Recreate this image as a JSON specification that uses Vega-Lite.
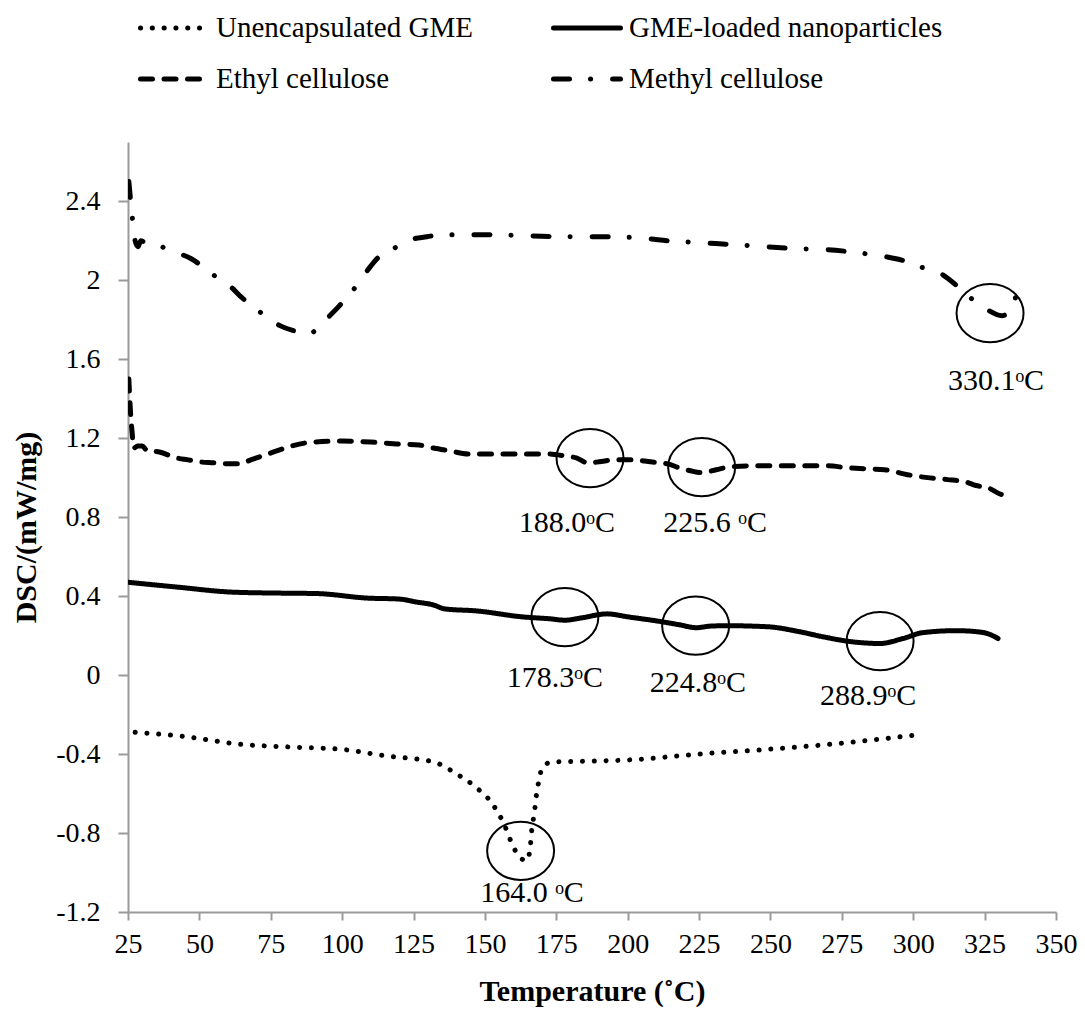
{
  "$schema": "https://vega.github.io/schema/vega-lite/v6.json",
  "width": 928,
  "height": 770,
  "autosize": {"type": "none"},
  "padding": {"left": 128, "top": 142, "right": 29, "bottom": 107},
  "background": "white",
  "config": {
    "view": {"stroke": null},
    "font": "Liberation Serif",
    "style": {"guide-label": {"font": "Liberation Serif"}, "guide-title": {"font": "Liberation Serif"}},
    "axis": {"grid": false, "domainColor": "#9a9a9a", "domainWidth": 2, "tickColor": "#9a9a9a", "tickWidth": 2, "labelFont": "Liberation Serif", "labelFontSize": 28, "labelColor": "black", "labelFlush": false, "titleFont": "Liberation Serif", "titleFontSize": 30, "titleFontWeight": "bold", "titleColor": "black"},
    "legend": {"labelFont": "Liberation Serif"}
  },
  "layer": [
    {
      "data": {"values": [
        {"series": "Methyl cellulose", "t": 25.3, "dsc": 2.50},
        {"series": "Methyl cellulose", "t": 25.8, "dsc": 2.42},
        {"series": "Methyl cellulose", "t": 26.5, "dsc": 2.32},
        {"series": "Methyl cellulose", "t": 27.5, "dsc": 2.20},
        {"series": "Methyl cellulose", "t": 28.5, "dsc": 2.17},
        {"series": "Methyl cellulose", "t": 29.5, "dsc": 2.20},
        {"series": "Methyl cellulose", "t": 31, "dsc": 2.19},
        {"series": "Methyl cellulose", "t": 36.6, "dsc": 2.17},
        {"series": "Methyl cellulose", "t": 42, "dsc": 2.14},
        {"series": "Methyl cellulose", "t": 47, "dsc": 2.11},
        {"series": "Methyl cellulose", "t": 52, "dsc": 2.06},
        {"series": "Methyl cellulose", "t": 56.5, "dsc": 2.01},
        {"series": "Methyl cellulose", "t": 60.7, "dsc": 1.97},
        {"series": "Methyl cellulose", "t": 65, "dsc": 1.91},
        {"series": "Methyl cellulose", "t": 69.5, "dsc": 1.86},
        {"series": "Methyl cellulose", "t": 73.7, "dsc": 1.81},
        {"series": "Methyl cellulose", "t": 78.2, "dsc": 1.77},
        {"series": "Methyl cellulose", "t": 84, "dsc": 1.74},
        {"series": "Methyl cellulose", "t": 87, "dsc": 1.73},
        {"series": "Methyl cellulose", "t": 89.5, "dsc": 1.735},
        {"series": "Methyl cellulose", "t": 91.5, "dsc": 1.76},
        {"series": "Methyl cellulose", "t": 95, "dsc": 1.81},
        {"series": "Methyl cellulose", "t": 99, "dsc": 1.87},
        {"series": "Methyl cellulose", "t": 102.7, "dsc": 1.93},
        {"series": "Methyl cellulose", "t": 106, "dsc": 1.99},
        {"series": "Methyl cellulose", "t": 109.4, "dsc": 2.06},
        {"series": "Methyl cellulose", "t": 113, "dsc": 2.12},
        {"series": "Methyl cellulose", "t": 118, "dsc": 2.16},
        {"series": "Methyl cellulose", "t": 122.7, "dsc": 2.20},
        {"series": "Methyl cellulose", "t": 129.7, "dsc": 2.22},
        {"series": "Methyl cellulose", "t": 135, "dsc": 2.23},
        {"series": "Methyl cellulose", "t": 143, "dsc": 2.23},
        {"series": "Methyl cellulose", "t": 151, "dsc": 2.23},
        {"series": "Methyl cellulose", "t": 165, "dsc": 2.225},
        {"series": "Methyl cellulose", "t": 180, "dsc": 2.22},
        {"series": "Methyl cellulose", "t": 194.5, "dsc": 2.22},
        {"series": "Methyl cellulose", "t": 207, "dsc": 2.21},
        {"series": "Methyl cellulose", "t": 214, "dsc": 2.20},
        {"series": "Methyl cellulose", "t": 225, "dsc": 2.19},
        {"series": "Methyl cellulose", "t": 237.6, "dsc": 2.18},
        {"series": "Methyl cellulose", "t": 248, "dsc": 2.17},
        {"series": "Methyl cellulose", "t": 259, "dsc": 2.16},
        {"series": "Methyl cellulose", "t": 270, "dsc": 2.155},
        {"series": "Methyl cellulose", "t": 280, "dsc": 2.14},
        {"series": "Methyl cellulose", "t": 290, "dsc": 2.12},
        {"series": "Methyl cellulose", "t": 296.4, "dsc": 2.10},
        {"series": "Methyl cellulose", "t": 302, "dsc": 2.07},
        {"series": "Methyl cellulose", "t": 310, "dsc": 2.03},
        {"series": "Methyl cellulose", "t": 317, "dsc": 1.95},
        {"series": "Methyl cellulose", "t": 321, "dsc": 1.90},
        {"series": "Methyl cellulose", "t": 326, "dsc": 1.85},
        {"series": "Methyl cellulose", "t": 331, "dsc": 1.82},
        {"series": "Methyl cellulose", "t": 334, "dsc": 1.85},
        {"series": "Methyl cellulose", "t": 337, "dsc": 1.97},

        {"series": "Ethyl cellulose", "t": 25.3, "dsc": 1.50},
        {"series": "Ethyl cellulose", "t": 25.8, "dsc": 1.35},
        {"series": "Ethyl cellulose", "t": 26.5, "dsc": 1.22},
        {"series": "Ethyl cellulose", "t": 27, "dsc": 1.15},
        {"series": "Ethyl cellulose", "t": 28.5, "dsc": 1.16},
        {"series": "Ethyl cellulose", "t": 30, "dsc": 1.16},
        {"series": "Ethyl cellulose", "t": 31.5, "dsc": 1.14},
        {"series": "Ethyl cellulose", "t": 36, "dsc": 1.13},
        {"series": "Ethyl cellulose", "t": 42, "dsc": 1.10},
        {"series": "Ethyl cellulose", "t": 46, "dsc": 1.09},
        {"series": "Ethyl cellulose", "t": 50, "dsc": 1.08},
        {"series": "Ethyl cellulose", "t": 55, "dsc": 1.075},
        {"series": "Ethyl cellulose", "t": 60, "dsc": 1.07},
        {"series": "Ethyl cellulose", "t": 64, "dsc": 1.07},
        {"series": "Ethyl cellulose", "t": 68, "dsc": 1.09},
        {"series": "Ethyl cellulose", "t": 72, "dsc": 1.11},
        {"series": "Ethyl cellulose", "t": 76, "dsc": 1.13},
        {"series": "Ethyl cellulose", "t": 80, "dsc": 1.15},
        {"series": "Ethyl cellulose", "t": 85, "dsc": 1.17},
        {"series": "Ethyl cellulose", "t": 90, "dsc": 1.18},
        {"series": "Ethyl cellulose", "t": 100, "dsc": 1.185},
        {"series": "Ethyl cellulose", "t": 110, "dsc": 1.18},
        {"series": "Ethyl cellulose", "t": 120, "dsc": 1.17},
        {"series": "Ethyl cellulose", "t": 127, "dsc": 1.165},
        {"series": "Ethyl cellulose", "t": 132, "dsc": 1.15},
        {"series": "Ethyl cellulose", "t": 138, "dsc": 1.135},
        {"series": "Ethyl cellulose", "t": 144, "dsc": 1.12},
        {"series": "Ethyl cellulose", "t": 155, "dsc": 1.12},
        {"series": "Ethyl cellulose", "t": 172, "dsc": 1.12},
        {"series": "Ethyl cellulose", "t": 178, "dsc": 1.11},
        {"series": "Ethyl cellulose", "t": 182, "dsc": 1.10},
        {"series": "Ethyl cellulose", "t": 186, "dsc": 1.075},
        {"series": "Ethyl cellulose", "t": 190, "dsc": 1.08},
        {"series": "Ethyl cellulose", "t": 195, "dsc": 1.09},
        {"series": "Ethyl cellulose", "t": 202, "dsc": 1.09},
        {"series": "Ethyl cellulose", "t": 208, "dsc": 1.08},
        {"series": "Ethyl cellulose", "t": 214, "dsc": 1.07},
        {"series": "Ethyl cellulose", "t": 218, "dsc": 1.05},
        {"series": "Ethyl cellulose", "t": 222, "dsc": 1.035},
        {"series": "Ethyl cellulose", "t": 226, "dsc": 1.025},
        {"series": "Ethyl cellulose", "t": 231, "dsc": 1.04},
        {"series": "Ethyl cellulose", "t": 236, "dsc": 1.055},
        {"series": "Ethyl cellulose", "t": 245, "dsc": 1.06},
        {"series": "Ethyl cellulose", "t": 260, "dsc": 1.06},
        {"series": "Ethyl cellulose", "t": 270, "dsc": 1.06},
        {"series": "Ethyl cellulose", "t": 277, "dsc": 1.05},
        {"series": "Ethyl cellulose", "t": 283, "dsc": 1.045},
        {"series": "Ethyl cellulose", "t": 290, "dsc": 1.04},
        {"series": "Ethyl cellulose", "t": 298, "dsc": 1.015},
        {"series": "Ethyl cellulose", "t": 305, "dsc": 1.00},
        {"series": "Ethyl cellulose", "t": 312, "dsc": 0.99},
        {"series": "Ethyl cellulose", "t": 318, "dsc": 0.98},
        {"series": "Ethyl cellulose", "t": 322, "dsc": 0.96},
        {"series": "Ethyl cellulose", "t": 326, "dsc": 0.95},
        {"series": "Ethyl cellulose", "t": 330, "dsc": 0.92},
        {"series": "Ethyl cellulose", "t": 333, "dsc": 0.905},

        {"series": "GME-loaded nanoparticles", "t": 25, "dsc": 0.47},
        {"series": "GME-loaded nanoparticles", "t": 42, "dsc": 0.446},
        {"series": "GME-loaded nanoparticles", "t": 61.8, "dsc": 0.42},
        {"series": "GME-loaded nanoparticles", "t": 79, "dsc": 0.415},
        {"series": "GME-loaded nanoparticles", "t": 91, "dsc": 0.413},
        {"series": "GME-loaded nanoparticles", "t": 108.7, "dsc": 0.39},
        {"series": "GME-loaded nanoparticles", "t": 120, "dsc": 0.385},
        {"series": "GME-loaded nanoparticles", "t": 126, "dsc": 0.37},
        {"series": "GME-loaded nanoparticles", "t": 132, "dsc": 0.355},
        {"series": "GME-loaded nanoparticles", "t": 136, "dsc": 0.335},
        {"series": "GME-loaded nanoparticles", "t": 147, "dsc": 0.325},
        {"series": "GME-loaded nanoparticles", "t": 163, "dsc": 0.295},
        {"series": "GME-loaded nanoparticles", "t": 172.8, "dsc": 0.285},
        {"series": "GME-loaded nanoparticles", "t": 178, "dsc": 0.278},
        {"series": "GME-loaded nanoparticles", "t": 184, "dsc": 0.29},
        {"series": "GME-loaded nanoparticles", "t": 192.7, "dsc": 0.31},
        {"series": "GME-loaded nanoparticles", "t": 200, "dsc": 0.295},
        {"series": "GME-loaded nanoparticles", "t": 212, "dsc": 0.27},
        {"series": "GME-loaded nanoparticles", "t": 218, "dsc": 0.255},
        {"series": "GME-loaded nanoparticles", "t": 224, "dsc": 0.24},
        {"series": "GME-loaded nanoparticles", "t": 229, "dsc": 0.248},
        {"series": "GME-loaded nanoparticles", "t": 234.8, "dsc": 0.25},
        {"series": "GME-loaded nanoparticles", "t": 248.8, "dsc": 0.245},
        {"series": "GME-loaded nanoparticles", "t": 260, "dsc": 0.22},
        {"series": "GME-loaded nanoparticles", "t": 268, "dsc": 0.195},
        {"series": "GME-loaded nanoparticles", "t": 277.8, "dsc": 0.17},
        {"series": "GME-loaded nanoparticles", "t": 288.4, "dsc": 0.16},
        {"series": "GME-loaded nanoparticles", "t": 296.4, "dsc": 0.185},
        {"series": "GME-loaded nanoparticles", "t": 303.4, "dsc": 0.215},
        {"series": "GME-loaded nanoparticles", "t": 315, "dsc": 0.225},
        {"series": "GME-loaded nanoparticles", "t": 322, "dsc": 0.22},
        {"series": "GME-loaded nanoparticles", "t": 327, "dsc": 0.205},
        {"series": "GME-loaded nanoparticles", "t": 329.7, "dsc": 0.185},

        {"series": "Unencapsulated GME", "t": 27.5, "dsc": -0.29},
        {"series": "Unencapsulated GME", "t": 44, "dsc": -0.31},
        {"series": "Unencapsulated GME", "t": 64, "dsc": -0.35},
        {"series": "Unencapsulated GME", "t": 83, "dsc": -0.365},
        {"series": "Unencapsulated GME", "t": 99, "dsc": -0.375},
        {"series": "Unencapsulated GME", "t": 115.7, "dsc": -0.41},
        {"series": "Unencapsulated GME", "t": 132, "dsc": -0.44},
        {"series": "Unencapsulated GME", "t": 140, "dsc": -0.50},
        {"series": "Unencapsulated GME", "t": 147, "dsc": -0.57},
        {"series": "Unencapsulated GME", "t": 152.5, "dsc": -0.65},
        {"series": "Unencapsulated GME", "t": 156.7, "dsc": -0.755},
        {"series": "Unencapsulated GME", "t": 159.8, "dsc": -0.865},
        {"series": "Unencapsulated GME", "t": 162, "dsc": -0.92},
        {"series": "Unencapsulated GME", "t": 164.7, "dsc": -0.94},
        {"series": "Unencapsulated GME", "t": 165.8, "dsc": -0.88},
        {"series": "Unencapsulated GME", "t": 166.5, "dsc": -0.77},
        {"series": "Unencapsulated GME", "t": 167.2, "dsc": -0.71},
        {"series": "Unencapsulated GME", "t": 168.2, "dsc": -0.59},
        {"series": "Unencapsulated GME", "t": 169, "dsc": -0.53},
        {"series": "Unencapsulated GME", "t": 170, "dsc": -0.47},
        {"series": "Unencapsulated GME", "t": 173.5, "dsc": -0.44},
        {"series": "Unencapsulated GME", "t": 189.6, "dsc": -0.435},
        {"series": "Unencapsulated GME", "t": 200, "dsc": -0.43},
        {"series": "Unencapsulated GME", "t": 225, "dsc": -0.40},
        {"series": "Unencapsulated GME", "t": 250, "dsc": -0.375},
        {"series": "Unencapsulated GME", "t": 275, "dsc": -0.345},
        {"series": "Unencapsulated GME", "t": 300, "dsc": -0.305}
      ]},
      "mark": {"type": "line", "color": "black", "strokeWidth": 5, "strokeCap": "round", "strokeJoin": "round", "interpolate": "monotone", "clip": true},
      "encoding": {
        "x": {"field": "t", "type": "quantitative", "scale": {"domain": [25, 350], "nice": false, "zero": false},
          "axis": {"values": [25, 50, 75, 100, 125, 150, 175, 200, 225, 250, 275, 300, 325, 350], "tickSize": 8, "labelPadding": 10, "labelFont": "Liberation Serif", "labelFlush": false, "title": "Temperature (˚C)", "titlePadding": 18, "labelExpr": "'' + datum.value"}},
        "y": {"field": "dsc", "type": "quantitative", "scale": {"domain": [-1.2, 2.7], "nice": false, "zero": false},
          "axis": {"values": [-1.2, -0.8, -0.4, 0, 0.4, 0.8, 1.2, 1.6, 2, 2.4], "tickSize": 10, "labelPadding": 18, "labelFont": "Liberation Serif", "labelFlush": false, "title": "DSC/(mW/mg)", "titlePadding": 14, "labelExpr": "'' + datum.value"}},
        "strokeDash": {"field": "series", "type": "nominal",
          "scale": {"domain": ["Unencapsulated GME", "Ethyl cellulose", "GME-loaded nanoparticles", "Methyl cellulose"],
                    "range": [[0.1, 11.7], [12, 11.5], [1, 0], [16, 21, 0.1, 22]]},
          "legend": {"orient": "none", "legendX": 10, "legendY": -150, "columns": 2, "columnPadding": 70, "rowPadding": -5, "title": null,
            "symbolType": "stroke", "symbolSize": 4489, "symbolStrokeWidth": 5, "symbolStrokeColor": "black",
            "labelFont": "Liberation Serif", "labelFontSize": 29, "labelColor": "black", "labelOffset": 6, "labelLimit": 500,
            "encoding": {"symbols": {"strokeCap": {"value": "round"}}}}}
      }
    },
    {
      "data": {"values": [
        {"t": 326.9, "dsc": 1.833},
        {"t": 186.8, "dsc": 1.099},
        {"t": 225.9, "dsc": 1.053},
        {"t": 178.0, "dsc": 0.294},
        {"t": 223.8, "dsc": 0.25},
        {"t": 288.4, "dsc": 0.172},
        {"t": 162.5, "dsc": -0.89}
      ]},
      "mark": {"type": "point", "shape": "M -1 0 A 1 0.87 0 1 1 1 0 A 1 0.87 0 1 1 -1 0 Z", "size": 4489, "filled": false, "stroke": "black", "strokeWidth": 2, "opacity": 1},
      "encoding": {
        "x": {"field": "t", "type": "quantitative"},
        "y": {"field": "dsc", "type": "quantitative"}
      }
    },
    {
      "data": {"values": [
        {"t": 329.0, "dsc": 1.489, "label": "330.1ᵒC"},
        {"t": 178.7, "dsc": 0.77, "label": "188.0ᵒC"},
        {"t": 230.6, "dsc": 0.77, "label": "225.6 ᵒC"},
        {"t": 174.5, "dsc": -0.015, "label": "178.3ᵒC"},
        {"t": 224.6, "dsc": -0.04, "label": "224.8ᵒC"},
        {"t": 284.2, "dsc": -0.106, "label": "288.9ᵒC"},
        {"t": 166.5, "dsc": -1.104, "label": "164.0 ᵒC"}
      ]},
      "mark": {"type": "text", "font": "Liberation Serif", "fontSize": 30, "color": "black", "align": "center", "baseline": "middle"},
      "encoding": {
        "x": {"field": "t", "type": "quantitative"},
        "y": {"field": "dsc", "type": "quantitative"},
        "text": {"field": "label"}
      }
    }
  ]
}
